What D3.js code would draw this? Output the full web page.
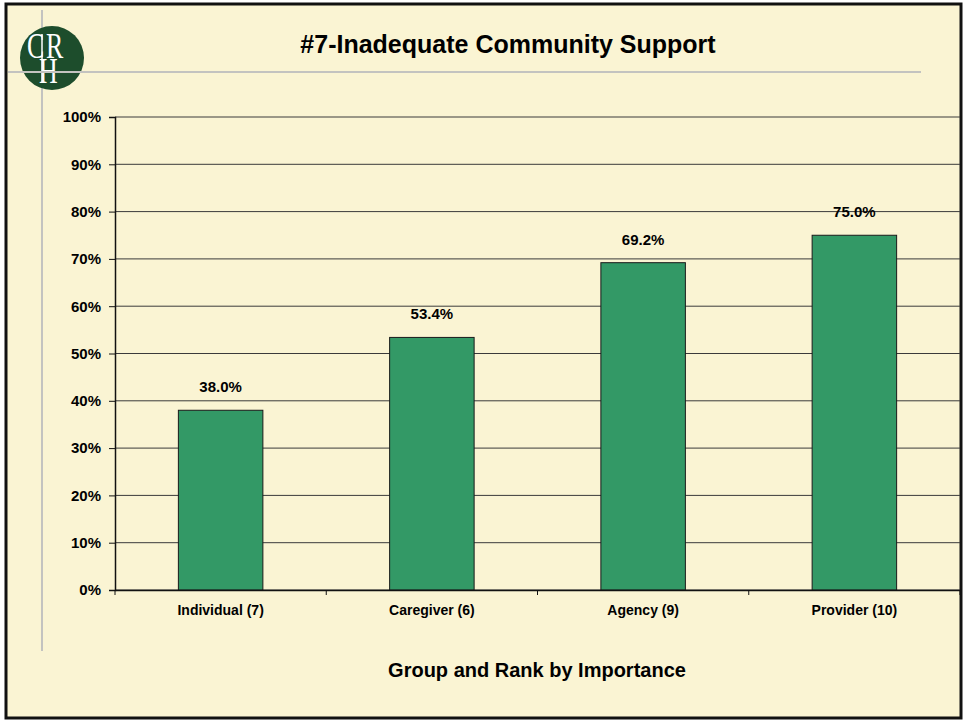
<!DOCTYPE html>
<html>
<head>
<meta charset="utf-8">
<script src="https://cdn.jsdelivr.net/npm/d3@7"></script>
<style>
  body { margin: 0; background: #fff; }
  svg { display: block; }
</style>
</head>
<body>
<div id="chart"></div>
<script>
// data
var groups = ["Individual (7)", "Caregiver (6)", "Agency (9)", "Provider (10)"];
var percents = [38.0, 53.4, 69.2, 75.0];
var yTicks = [0, 10, 20, 30, 40, 50, 60, 70, 80, 90, 100];

var width = 964, height = 721;
var plot = { left: 115, top: 117, right: 960, bottom: 590 };

var svg = d3.select("#chart").append("svg")
  .attr("width", width)
  .attr("height", height);

// slide background and frame
svg.append("rect")
  .attr("x", 0).attr("y", 0).attr("width", width).attr("height", height)
  .attr("fill", "#ffffff");
svg.append("rect")
  .attr("x", 6).attr("y", 4).attr("width", 955).attr("height", 714)
  .attr("fill", "#faf4d3")
  .attr("stroke", "#111").attr("stroke-width", 3);

// vertical gray rule (under the logo)
svg.append("line")
  .attr("x1", 42).attr("x2", 42).attr("y1", 10).attr("y2", 651)
  .attr("stroke", "#c3c3c0").attr("stroke-width", 2);

// logo
var logo = svg.append("g");
logo.append("circle").attr("cx", 52).attr("cy", 58).attr("r", 32).attr("fill", "#1d4d2c");
logo.append("line").attr("x1", 42).attr("x2", 42).attr("y1", 34).attr("y2", 83)
  .attr("stroke", "#fff").attr("stroke-width", 1.5);
var sx = 0.74;
var mono = logo.append("text")
  .attr("transform", "scale(" + sx + ",1)")
  .attr("font-family", "Liberation Serif, DejaVu Serif, serif")
  .attr("font-size", 35).attr("fill", "#fff");
mono.append("tspan").attr("x", 27 / sx).attr("y", 58).text("C");
mono.append("tspan").attr("x", 46 / sx).attr("y", 58).text("R");
mono.append("tspan").attr("x", 39 / sx).attr("y", 83).text("H");

// horizontal gray rule (over the logo)
svg.append("line")
  .attr("x1", 8).attr("x2", 921).attr("y1", 72).attr("y2", 72)
  .attr("stroke", "#c3c3c0").attr("stroke-width", 2);

// title
svg.append("text")
  .attr("x", 508).attr("y", 53)
  .attr("text-anchor", "middle")
  .attr("font-family", "Liberation Sans Narrow, Arial Narrow, Liberation Sans, Arial, sans-serif")
  .attr("font-weight", "bold")
  .attr("font-size", 25)
  .attr("fill", "#000")
  .text("#7-Inadequate Community Support");

var x = d3.scaleBand()
  .domain(groups)
  .range([plot.left, plot.right])
  .paddingInner(0.6)
  .paddingOuter(0.3);

var y = d3.scaleLinear()
  .domain([0, 100])
  .range([plot.bottom, plot.top]);

// gridlines
svg.append("g")
  .selectAll("line")
  .data(yTicks)
  .enter().append("line")
  .attr("x1", plot.left).attr("x2", plot.right)
  .attr("y1", function(d) { return y(d); })
  .attr("y2", function(d) { return y(d); })
  .attr("stroke", "#3a3a3a").attr("stroke-width", 1);

// y axis
var yAxis = svg.append("g")
  .attr("transform", "translate(" + plot.left + ",0)")
  .call(d3.axisLeft(y).tickValues(yTicks).tickSize(6).tickPadding(8)
    .tickFormat(function(d) { return d + "%"; }));
yAxis.select(".domain").attr("stroke", "#111").attr("stroke-width", 1.5);
yAxis.selectAll(".tick line").attr("stroke", "#111");
yAxis.selectAll("text")
  .attr("font-family", "Liberation Sans, Arial, sans-serif")
  .attr("font-weight", "bold").attr("font-size", 15).attr("fill", "#000");

// bars
svg.append("g")
  .selectAll("rect")
  .data(percents)
  .enter().append("rect")
  .attr("x", function(d, i) { return x(groups[i]); })
  .attr("y", function(d) { return y(d); })
  .attr("width", x.bandwidth())
  .attr("height", function(d) { return y(0) - y(d); })
  .attr("fill", "#339966")
  .attr("stroke", "#1a1a1a").attr("stroke-width", 1);

// value labels
svg.append("g")
  .selectAll("text")
  .data(percents)
  .enter().append("text")
  .attr("x", function(d, i) { return x(groups[i]) + x.bandwidth() / 2; })
  .attr("y", function(d) { return y(d) - 18; })
  .attr("text-anchor", "middle")
  .attr("font-family", "Liberation Sans, Arial, sans-serif")
  .attr("font-weight", "bold").attr("font-size", 15)
  .text(function(d) { return d.toFixed(1) + "%"; });

// x axis
var step = (plot.right - plot.left) / groups.length;
var xAxis = svg.append("g")
  .attr("transform", "translate(0," + plot.bottom + ")")
  .call(d3.axisBottom(x).tickSize(0).tickPadding(15));
xAxis.select(".domain").attr("stroke", "#111").attr("stroke-width", 1.5);
xAxis.selectAll("text")
  .attr("font-family", "Liberation Sans, Arial, sans-serif")
  .attr("font-weight", "bold").attr("font-size", 14).attr("fill", "#000");
xAxis.selectAll(".sep")
  .data(d3.range(groups.length + 1))
  .enter().append("line")
  .attr("class", "sep")
  .attr("x1", function(i) { return plot.left + i * step; })
  .attr("x2", function(i) { return plot.left + i * step; })
  .attr("y1", 0).attr("y2", 5)
  .attr("stroke", "#111");

// axis title
svg.append("text")
  .attr("x", 537).attr("y", 677)
  .attr("text-anchor", "middle")
  .attr("font-family", "Liberation Sans, Arial, sans-serif")
  .attr("font-weight", "bold").attr("font-size", 20)
  .text("Group and Rank by Importance");
</script>
</body>
</html>
